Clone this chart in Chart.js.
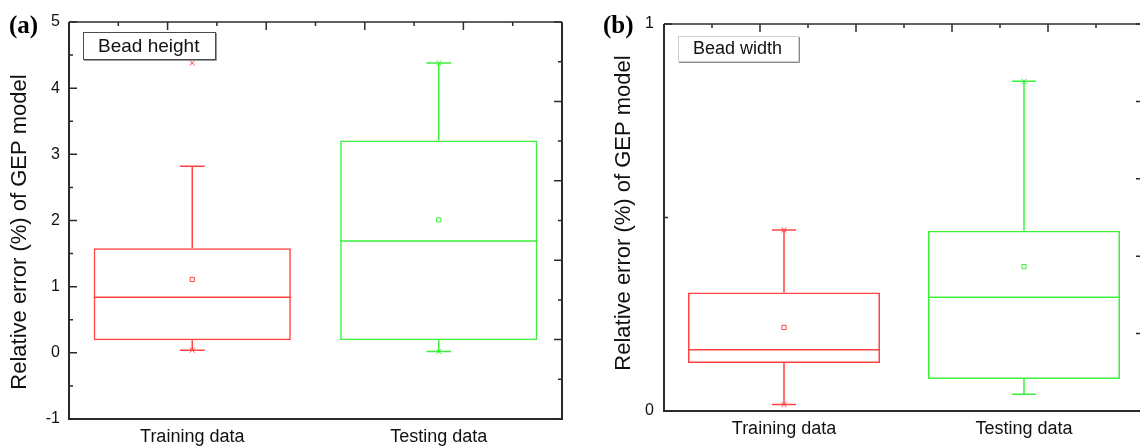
<!DOCTYPE html>
<html>
<head>
<meta charset="utf-8">
<script src="https://cdn.jsdelivr.net/npm/chart.js@4.4.0/dist/chart.umd.min.js"></script>
<style>
  html, body { margin:0; padding:0; background:#fff; overflow:hidden; width:1140px; height:446px; }
  .panel { position:absolute; top:0; height:446px; }
  #pa { left:0; width:575px; }
  #pb { left:580px; width:570px; }
</style>
</head>
<body>
<div class="panel" id="pa"><canvas id="ca"></canvas></div>
<div class="panel" id="pb"><canvas id="cb"></canvas></div>
<script>
// box plots: Training vs Testing, relative error of GEP model
var categories = ["Training data", "Testing data"];

// (a) bead height
var hQ1     = [0.19, 0.19];
var hMedian = [0.84, 1.69];
var hQ3     = [1.58, 3.21];
var hLow    = [0.04, 0.02];
var hHigh   = [2.82, 4.38];
var hMean   = [1.11, 2.01];
var hCrossTrain = [4.38, 0.04];
var hCrossTest  = [4.38, 0.02];

// (b) bead width
var wQ1     = [0.124, 0.083];
var wMedian = [0.158, 0.294];
var wQ3     = [0.306, 0.466];
var wLow    = [0.017, 0.043];
var wHigh   = [0.468, 0.852];
var wMean   = [0.216, 0.373];
var wCrossTrain = [0.468, 0.017];
var wCrossTest  = [0.852];

var RED = "#ff4242", GREEN = "#3cf03c", AXIS = "#2b2b2b";
Chart.defaults.font.family = "'Liberation Sans', Arial, sans-serif";

// whiskers, caps, medians + frame with inside ticks, legend box, letters
var boxPlugin = {
  id: "boxdeco",
  afterDatasetsDraw: function(chart){
    var p = chart.options.plugins.boxdeco;
    var ctx = chart.ctx, xs = chart.scales.x, ys = chart.scales.y;
    var bars = chart.getDatasetMeta(0).data;
    ctx.save();
    ctx.lineWidth = 1.5;
    for (var i = 0; i < categories.length; i++){
      var cx = xs.getPixelForValue(i);
      var half = bars[i].width / 2;
      var cap = half / 8;
      var yq1 = ys.getPixelForValue(p.q1[i]), yq3 = ys.getPixelForValue(p.q3[i]);
      var ylo = ys.getPixelForValue(p.low[i]), yhi = ys.getPixelForValue(p.high[i]);
      var ymd = ys.getPixelForValue(p.median[i]);
      ctx.strokeStyle = p.colors[i];
      ctx.beginPath();
      ctx.moveTo(cx - half, ymd); ctx.lineTo(cx + half, ymd);
      ctx.moveTo(cx, yq3); ctx.lineTo(cx, yhi);
      ctx.moveTo(cx - cap, yhi); ctx.lineTo(cx + cap, yhi);
      ctx.moveTo(cx, yq1); ctx.lineTo(cx, ylo);
      ctx.moveTo(cx - cap, ylo); ctx.lineTo(cx + cap, ylo);
      ctx.stroke();
    }
    ctx.restore();
  },
  afterDraw: function(chart){
    var p = chart.options.plugins.boxdeco;
    var ctx = chart.ctx, a = chart.chartArea;
    var ys = chart.scales.y, x2 = chart.scales.x2, y2 = chart.scales.y2;
    ctx.save();
    ctx.strokeStyle = AXIS;
    // frame
    ctx.lineWidth = 2;
    ctx.beginPath();
    ctx.moveTo(a.left, a.top); ctx.lineTo(a.left, a.bottom); ctx.lineTo(a.right, a.bottom); ctx.lineTo(a.right, a.top);
    ctx.stroke();
    ctx.lineWidth = 1.5;
    ctx.beginPath(); ctx.moveTo(a.left, a.top); ctx.lineTo(a.right, a.top); ctx.stroke();
    // ticks, pointing inside
    ctx.lineWidth = 1.5;
    ctx.beginPath();
    var yt = ys.ticks;
    for (var i = 0; i < yt.length; i++){
      var py = ys.getPixelForValue(yt[i].value);
      ctx.moveTo(a.left, py); ctx.lineTo(a.left + 8, py);
      if (i < yt.length - 1){
        var pm = ys.getPixelForValue((yt[i].value + yt[i+1].value) / 2);
        ctx.moveTo(a.left, pm); ctx.lineTo(a.left + 4, pm);
      }
    }
    x2.ticks.forEach(function(t){
      var px = x2.getPixelForValue(t.value), len = (t.value % 2 === 0) ? 8 : 4;
      ctx.moveTo(px, a.top); ctx.lineTo(px, a.top + len);
    });
    y2.ticks.forEach(function(t){
      var py = y2.getPixelForValue(t.value), len = (t.value % 2 === 0) ? 8 : 4;
      ctx.moveTo(a.right, py); ctx.lineTo(a.right - len, py);
    });
    ctx.stroke();

    // legend box
    var L = p.legend;
    ctx.fillStyle = "#fff";
    ctx.fillRect(L.x, L.y, L.w, L.h);
    ctx.lineWidth = 1;
    ctx.strokeStyle = L.border;
    ctx.strokeRect(L.x + 0.5, L.y + 0.5, L.w, L.h);
    ctx.strokeStyle = L.shadow;
    ctx.beginPath();
    ctx.moveTo(L.x + 1, L.y + L.h + 1.5); ctx.lineTo(L.x + L.w + 1.5, L.y + L.h + 1.5); ctx.lineTo(L.x + L.w + 1.5, L.y + 1);
    ctx.stroke();
    ctx.fillStyle = "#111";
    ctx.font = L.size + "px 'Liberation Sans', Arial, sans-serif";
    ctx.textBaseline = "alphabetic";
    ctx.textAlign = "left";
    ctx.fillText(L.text, L.tx, L.ty);

    // panel letter
    ctx.font = "bold 25px 'Liberation Serif', 'Times New Roman', serif";
    ctx.fillStyle = "#000";
    ctx.fillText(p.letter, p.letterX, 33);

    // y axis title
    ctx.save();
    ctx.translate(p.titleX, p.titleY);
    ctx.rotate(-Math.PI / 2);
    ctx.textAlign = "center";
    ctx.font = "22px 'Liberation Sans', Arial, sans-serif";
    ctx.fillStyle = "#111";
    ctx.fillText("Relative error (%) of GEP model", 0, 0);
    ctx.restore();
    ctx.restore();
  }
};

function boxChart(id, p){
  var colors = [RED, GREEN];
  var crossData = [], crossColors = [];
  p.crossTrain.forEach(function(v){ crossData.push({x: categories[0], y: v}); crossColors.push(RED); });
  p.crossTest.forEach(function(v){ crossData.push({x: categories[1], y: v}); crossColors.push(GREEN); });
  p.colors = colors;

  return new Chart(document.getElementById(id), {
    data: {
      labels: categories,
      datasets: [
        { type:"bar", xAxisID:"x", yAxisID:"y",
          data: p.q1.map(function(v, i){ return [v, p.q3[i]]; }),
          borderColor: colors, backgroundColor: "rgba(0,0,0,0)", borderWidth: 1.5, borderSkipped: false,
          barPercentage: 0.8, categoryPercentage: 1 },
        { type:"line", xAxisID:"x", yAxisID:"y", data: p.mean, showLine:false,
          pointStyle:"rect", pointRadius:3, pointBorderWidth:1,
          pointBorderColor: colors, pointBackgroundColor:"rgba(0,0,0,0)" },
        { type:"line", xAxisID:"x", yAxisID:"y", data: crossData, showLine:false,
          pointStyle:"crossRot", pointRadius:3.5, pointBorderWidth:1,
          pointBorderColor: crossColors, pointBackgroundColor: crossColors }
      ]
    },
    options: {
      responsive:true, maintainAspectRatio:false, animation:false,
      events: [],
      layout:{ padding:{ left:0, top:p.top, right:p.padRight, bottom:0 } },
      plugins:{ legend:{display:false}, tooltip:{enabled:false}, boxdeco: p },
      scales:{
        x:{ type:"category", offset:true,
            grid:{display:false, drawTicks:false}, border:{display:false},
            ticks:{ color:"#111", font:{size:18}, padding:7, maxRotation:0 },
            afterFit:function(s){ s.height = p.xHeight; } },
        y:{ type:"linear", min:p.min, max:p.max,
            grid:{display:false, drawTicks:false}, border:{display:false},
            ticks:{ stepSize:1, color:"#111", font:{size:16}, padding:p.tickPad },
            afterFit:function(s){ s.width = p.yWidth; } },
        x2:{ type:"linear", position:"top", display:false, min:0, max:10, ticks:{stepSize:1} },
        y2:{ type:"linear", position:"right", display:false, min:0, max:10, ticks:{stepSize:1} }
      }
    },
    plugins:[boxPlugin]
  });
}

boxChart("ca", {
  q1:hQ1, median:hMedian, q3:hQ3, low:hLow, high:hHigh, mean:hMean,
  crossTrain:hCrossTrain, crossTest:hCrossTest,
  min:-1, max:5, top:22, padRight:13, xHeight:27, yWidth:69, tickPad:9,
  letter:"(a)", letterX:9, titleX:26, titleY:232,
  legend:{ text:"Bead height", size:19, x:83, y:32, w:132, h:27, tx:98, ty:52, border:"#4a4a4a", shadow:"#9a9a9a" }
});

boxChart("cb", {
  q1:wQ1, median:wMedian, q3:wQ3, low:wLow, high:wHigh, mean:wMean,
  crossTrain:wCrossTrain, crossTest:wCrossTest,
  min:0, max:1, top:24, padRight:6, xHeight:35, yWidth:84, tickPad:10,
  letter:"(b)", letterX:23, titleX:50, titleY:213,
  legend:{ text:"Bead width", size:18, x:98, y:36, w:120, h:25, tx:113, ty:54, border:"#cfcfcf", shadow:"#8a8a8a" }
});
</script>
</body>
</html>
